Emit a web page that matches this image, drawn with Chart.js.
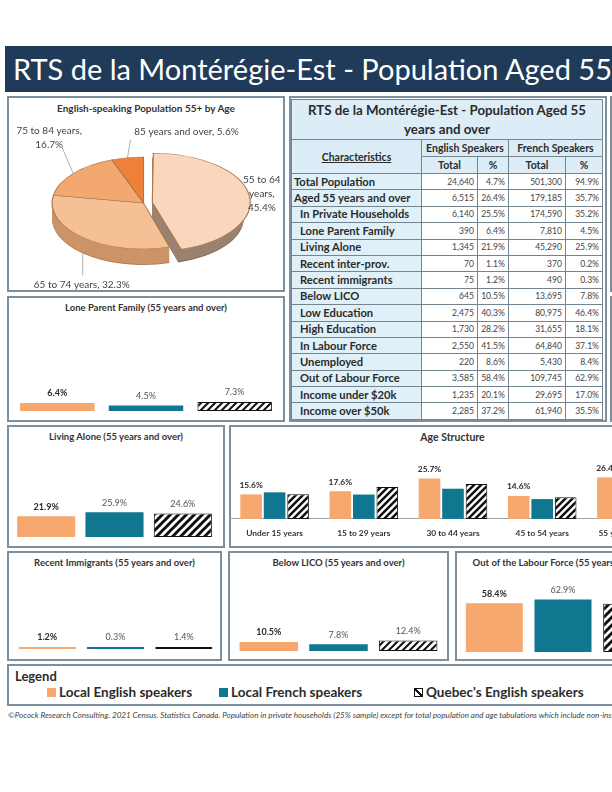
<!DOCTYPE html>
<html>
<head>
<meta charset="utf-8">
<script src="https://cdn.jsdelivr.net/npm/chart.js@4.4.1/dist/chart.umd.min.js"></script>
<style>
html, body { margin: 0; padding: 0; background: #fff; }
#page { position: relative; width: 612px; height: 792px; overflow: hidden; font-family: Lato, "Open Sans", sans-serif; color: #2b2b2b; }
#wrap { position: absolute; left: 0; top: 0; width: 760px; height: 792px; }
.panel { position: absolute; box-sizing: border-box; border: 2px solid #7d8f9d; background: #fff; }
.ptitle { position: absolute; left: 0; right: 0; top: 4px; line-height: 12px; text-align: center; font-weight: bold; font-size: 9.5px; color: #333; white-space: nowrap; }
canvas { position: absolute; }
#titlebar { position: absolute; left: 5px; top: 46px; width: 755px; height: 46px; background: #1f3b59; color: #fff; font-size: 29px; line-height: 46px; padding-left: 8px; box-sizing: border-box; white-space: nowrap; }
#tbl { position: absolute; left: 291px; top: 99px; width: 311px; border-collapse: collapse; table-layout: fixed; }
#tbl td, #tbl th { border: 1px solid #75858f; padding: 0 3px; white-space: nowrap; overflow: hidden; }
#tbl .tt { background: #dcedf7; font-size: 13.3px; font-weight: bold; height: 39px; line-height: 19px; text-align: center; }
#tbl .hd { background: #dcedf7; font-size: 10.5px; font-weight: bold; text-align: center; height: 16px; line-height: 15px; }
#tbl .ch { background: #dcedf7; font-size: 10.5px; font-weight: bold; text-align: center; text-decoration: underline; }
#tbl .lab { background: #dff0f8; font-size: 11.2px; font-weight: bold; height: 15.4px; line-height: 14px; }
#tbl .num { background: #fff; font-size: 8.6px; text-align: right; color: #444; }
#legend .item { position: absolute; top: 19px; font-size: 13.5px; font-weight: bold; white-space: nowrap; line-height: 15px; }
#legend .sw { display: inline-block; width: 9px; height: 9px; margin-right: 3px; vertical-align: 0px; box-sizing: border-box; }
#footer { position: absolute; left: 8px; top: 710px; font-size: 8.1px; font-style: italic; color: #444; white-space: nowrap; }
</style>
</head>
<body>
<div id="page">
<div id="wrap">
  <div id="titlebar">RTS de la Montérégie-Est - Population Aged 55 years and over</div>

  <div class="panel" style="left:7px;top:96px;width:278px;height:196px;"><div class="ptitle" style="font-size:10px;">English-speaking Population 55+ by Age</div></div>
  <div class="panel" style="left:289px;top:96px;width:318px;height:326px;"></div>
  <div class="panel" style="left:610px;top:96px;width:100px;height:196px;"></div>
  <div class="panel" style="left:610px;top:296px;width:100px;height:126px;"></div>
  <div class="panel" style="left:7px;top:296px;width:278px;height:126px;"><div class="ptitle">Lone Parent Family (55 years and over)</div></div>
  <div class="panel" style="left:7px;top:425px;width:218px;height:123px;"><div class="ptitle">Living Alone (55 years and over)</div></div>
  <div class="panel" style="left:229px;top:425px;width:447px;height:123px;"><div class="ptitle" style="font-size:10.5px;">Age Structure</div></div>
  <div class="panel" style="left:7px;top:551px;width:215px;height:110px;"><div class="ptitle">Recent Immigrants (55 years and over)</div></div>
  <div class="panel" style="left:228px;top:551px;width:221px;height:110px;"><div class="ptitle">Below LICO (55 years and over)</div></div>
  <div class="panel" style="left:455px;top:551px;width:218px;height:110px;"><div class="ptitle">Out of the Labour Force (55 years and over)</div></div>

  <table id="tbl"></table>

  <div class="panel" id="legend" style="left:7px;top:664px;width:750px;height:42px;">
    <div style="position:absolute;left:6px;top:2px;font-size:13px;font-weight:bold;">Legend</div>
    <div class="item" style="left:38px;"><span class="sw" style="background:#f6a86f;"></span>Local English speakers</div>
    <div class="item" style="left:210px;"><span class="sw" style="background:#11768f;"></span>Local French speakers</div>
    <div class="item" style="left:405px;"><span class="sw" style="border:1px solid #111;background:linear-gradient(to top right, #fff 40%, #111 40%, #111 60%, #fff 60%);"></span>Quebec's English speakers</div>
  </div>
  <div id="footer">©Pocock Research Consulting. 2021 Census. Statistics Canada. Population in private households (25% sample) except for total population and age tabulations which include non-institutional residents.</div>
</div>
</div>

<script>
// colours
var orange = '#f6a86f';
var teal = '#11768f';

// the three groups compared in every small chart
var speakerGroups = ['Local English speakers', 'Local French speakers', "Quebec's English speakers"];

// pie: English-speaking population 55+ by age
var pieCats = ['55 to 64 years', '65 to 74 years', '75 to 84 years', '85 years and over'];
var pieVals = [45.4, 32.3, 16.7, 5.6];

// small bar charts (%)
var loneParent = [6.4, 4.5, 7.3];
var livingAlone = [21.9, 25.9, 24.6];
var recentImmigrants = [1.2, 0.3, 1.4];
var belowLico = [10.5, 7.8, 12.4];
var outOfLabour = [58.4, 62.9, 58.0];

// age structure (%)
var ageCats = ['Under 15 years', '15 to 29 years', '30 to 44 years', '45 to 54 years', '55 years and over'];
var ageEnglish = [15.6, 17.6, 25.7, 14.6, 26.4];
var ageFrench = [16.9, 15.5, 19.2, 12.6, 35.7];
var ageQuebec = [15.7, 20.3, 22.2, 13.8, 28.0];

// table
var rowLabels = ['Total Population', 'Aged 55 years and over', 'In Private Households', 'Lone Parent Family', 'Living Alone',
    'Recent inter-prov.', 'Recent immigrants', 'Below LICO', 'Low Education', 'High Education', 'In Labour Force',
    'Unemployed', 'Out of Labour Force', 'Income under $20k', 'Income over $50k'];
var engTotal = [24640, 6515, 6140, 390, 1345, 70, 75, 645, 2475, 1730, 2550, 220, 3585, 1235, 2285];
var engPct = [4.7, 26.4, 25.5, 6.4, 21.9, 1.1, 1.2, 10.5, 40.3, 28.2, 41.5, 8.6, 58.4, 20.1, 37.2];
var frTotal = [501300, 179185, 174590, 7810, 45290, 370, 490, 13695, 80975, 31655, 64840, 5430, 109745, 29695, 61940];
var frPct = [94.9, 35.7, 35.2, 4.5, 25.9, 0.2, 0.3, 7.8, 46.4, 18.1, 37.1, 8.4, 62.9, 17.0, 35.5];


// ---- table ----
function buildTable() {
    var h = '<colgroup><col style="width:130px"><col style="width:56px"><col style="width:31px"><col style="width:57px"><col style="width:37px"></colgroup>';
    h += '<tr><td colspan="5" class="tt">RTS de la Montérégie-Est - Population Aged 55<br>years and over</td></tr>';
    h += '<tr><td rowspan="2" class="ch">Characteristics</td><td colspan="2" class="hd">English Speakers</td><td colspan="2" class="hd">French Speakers</td></tr>';
    h += '<tr><td class="hd">Total</td><td class="hd">%</td><td class="hd">Total</td><td class="hd">%</td></tr>';
    for (var i = 0; i < rowLabels.length; i++) {
        var pad = i < 2 ? 2 : 8;
        h += '<tr><td class="lab" style="padding-left:' + pad + 'px">' + rowLabels[i] + '</td>' +
            '<td class="num">' + engTotal[i].toLocaleString('en-US') + '</td>' +
            '<td class="num">' + engPct[i].toFixed(1) + '%</td>' +
            '<td class="num">' + frTotal[i].toLocaleString('en-US') + '</td>' +
            '<td class="num">' + frPct[i].toFixed(1) + '%</td></tr>';
    }
    document.getElementById('tbl').innerHTML = h;
}
buildTable();


// ---- helpers ----
function addCanvas(left, top, w, h) {
    var c = document.createElement('canvas');
    c.width = w;
    c.height = h;
    c.style.left = left + 'px';
    c.style.top = top + 'px';
    c.style.zIndex = 5;
    document.getElementById('wrap').appendChild(c);
    return c;
}

// diagonal "////" fill
function hatch(size, lineW) {
    var c = document.createElement('canvas');
    c.width = size;
    c.height = size;
    var g = c.getContext('2d');
    g.fillStyle = '#fff';
    g.fillRect(0, 0, size, size);
    g.strokeStyle = '#111';
    g.lineWidth = lineW;
    g.beginPath();
    g.moveTo(0, size); g.lineTo(size, 0);
    g.moveTo(-size / 2, size / 2); g.lineTo(size / 2, -size / 2);
    g.moveTo(size / 2, size * 1.5); g.lineTo(size * 1.5, size / 2);
    g.stroke();
    return g.createPattern(c, 'repeat');
}

Chart.defaults.font.family = 'Lato, "Open Sans", sans-serif';

// value labels above bars
var valueLabels = {
    id: 'valueLabels',
    afterDatasetsDraw: function(chart, args, opts) {
        var ctx = chart.ctx;
        ctx.save();
        ctx.textAlign = 'center';
        ctx.textBaseline = 'bottom';
        chart.data.datasets.forEach(function(ds, di) {
            if (opts.onlyDataset != null && opts.onlyDataset !== di) return;
            var meta = chart.getDatasetMeta(di);
            meta.data.forEach(function(bar, i) {
                var k = opts.byIndex ? i : di;
                ctx.font = (k === 0 ? 'bold ' : '') + opts.size + 'px ' + Chart.defaults.font.family;
                ctx.fillStyle = k === 0 ? '#2a2a2a' : '#555';
                ctx.fillText(ds.data[i].toFixed(1) + '%', bar.x, bar.y - opts.gap);
            });
        });
        ctx.restore();
    }
};

function groupBars(box, values, yMax, barPct, hatchSize, hatchW) {
    var cv = addCanvas(box[0], box[1], box[2], box[3]);
    return new Chart(cv, {
        type: 'bar',
        data: {
            labels: speakerGroups,
            datasets: [{
                data: values,
                backgroundColor: [orange, teal, hatch(hatchSize, hatchW)],
                borderColor: ['rgba(0,0,0,0)', 'rgba(0,0,0,0)', '#111'],
                borderWidth: [0, 0, 1],
                borderSkipped: false,
                categoryPercentage: 1,
                barPercentage: barPct,
                minBarLength: 2
            }]
        },
        options: {
            responsive: false,
            animation: false,
            events: [],
            layout: { padding: 0 },
            scales: {
                x: { display: false },
                y: { display: false, min: 0, max: yMax }
            },
            plugins: {
                legend: { display: false },
                tooltip: { enabled: false },
                valueLabels: { byIndex: true, size: 9, gap: 5 }
            }
        },
        plugins: [valueLabels]
    });
}

// [left, top, width, height] in page pixels; chart area bottom = bar baseline
groupBars([13, 311, 266, 100], loneParent, 80, 0.84, 7, 2);
groupBars([12, 457, 205, 80], livingAlone, 84, 0.85, 8, 3);
groupBars([13, 579, 205, 70], recentImmigrants, 78, 0.835, 6, 2);
groupBars([234, 581, 209, 70], belowLico, 82, 0.84, 7, 2);
groupBars([460, 577, 206, 75], outOfLabour, 90, 0.83, 8, 3);


// ---- age structure ----
(function() {
    var cv = addCanvas(230, 456, 446, 91);
    new Chart(cv, {
        type: 'bar',
        data: {
            labels: ageCats,
            datasets: [
                { label: speakerGroups[0], data: ageEnglish, backgroundColor: orange, borderWidth: 0 },
                { label: speakerGroups[1], data: ageFrench, backgroundColor: teal, borderWidth: 0 },
                { label: speakerGroups[2], data: ageQuebec, backgroundColor: hatch(7, 2.5), borderColor: '#111', borderWidth: 1, borderSkipped: false }
            ]
        },
        options: {
            responsive: false,
            animation: false,
            events: [],
            layout: { padding: 0 },
            datasets: { bar: { categoryPercentage: 0.79, barPercentage: 0.92 } },
            scales: {
                x: {
                    grid: { display: false, drawTicks: false },
                    border: { display: true, color: '#9aa6ae', width: 1 },
                    ticks: { color: '#333', padding: 9, autoSkip: false, maxRotation: 0, font: { size: 8.4, weight: 'bold' } }
                },
                y: { display: false, min: 0, max: 40 }
            },
            plugins: {
                legend: { display: false },
                tooltip: { enabled: false },
                valueLabels: { onlyDataset: 0, size: 8.4, gap: 5 }
            }
        },
        plugins: [valueLabels]
    });
})();


// ---- 3D pie ----
var pie3d = {
    id: 'pie3d',
    beforeDatasetsDraw: function(chart, args, o) {
        var ctx = chart.ctx;
        var arcs = chart.getDatasetMeta(0).data;
        var cx = arcs[0].x, cy = arcs[0].y, R = arcs[0].outerRadius;
        var sx = o.rx / R, sy = o.ry / R;
        chart._pieGeom = { cx: cx, cy: cy, R: R, sx: sx, sy: sy };
        ctx.save();
        ctx.translate(o.cx, o.cy);
        ctx.scale(sx, sy);
        ctx.translate(-cx, -cy);
        for (var d = o.depth; d > 0; d--) {
            arcs.forEach(function(arc, i) {
                var off = (arc.options.offset || 0) / 4;
                var mid = (arc.startAngle + arc.endAngle) / 2;
                var x = cx + Math.cos(mid) * off;
                var y = cy + Math.sin(mid) * off + d / sy;
                ctx.beginPath();
                ctx.moveTo(x, y);
                ctx.arc(x, y, R, arc.startAngle, arc.endAngle);
                ctx.closePath();
                ctx.fillStyle = d > o.depth - 1 ? o.edgeColors[i] : o.sideColors[i];
                ctx.fill();
            });
        }
    },
    afterDatasetsDraw: function(chart) {
        chart.ctx.restore();
    },
    afterDraw: function(chart, args, o) {
        var ctx = chart.ctx;
        var g = chart._pieGeom;
        var arcs = chart.getDatasetMeta(0).data;
        ctx.save();
        ctx.font = '10px ' + Chart.defaults.font.family;
        ctx.fillStyle = '#444';
        ctx.textAlign = 'center';
        ctx.textBaseline = 'middle';
        arcs.forEach(function(arc, i) {
            var mid = (arc.startAngle + arc.endAngle) / 2;
            var off = (arc.options.offset || 0) / 4;
            var ax = o.cx + Math.cos(mid) * (o.rx + off * g.sx);
            var ay = o.cy + Math.sin(mid) * (o.ry + off * g.sy) + (Math.sin(mid) > 0 ? o.depth : 0);
            var p = o.labels[i];
            if (p.lx != null) {
                ctx.strokeStyle = '#9a9a9a';
                ctx.lineWidth = 0.8;
                ctx.beginPath();
                ctx.moveTo(ax, ay);
                ctx.lineTo(ax + p.lx, ay + p.ly);
                ctx.stroke();
            }
            // word wrap "category, value%"
            var words = (pieCats[i] + ', ' + pieVals[i].toFixed(1) + '%').split(' ');
            var lines = [], cur = '';
            words.forEach(function(w) {
                var t = cur ? cur + ' ' + w : w;
                if (cur && ctx.measureText(t).width > p.wrap) { lines.push(cur); cur = w; } else { cur = t; }
            });
            lines.push(cur);
            var lh = 14;
            var y0 = ay + p.dy - (lines.length - 1) * lh / 2;
            lines.forEach(function(l, k) { ctx.fillText(l, ax + p.dx, y0 + k * lh); });
        });
        ctx.restore();
    }
};

(function() {
    var cv = addCanvas(9, 114, 274, 176);
    new Chart(cv, {
        type: 'pie',
        data: {
            labels: pieCats,
            datasets: [{
                data: pieVals,
                backgroundColor: ['#fad6bd', '#f6c095', '#f3a870', '#ee8039'],
                borderColor: '#a9764f',
                borderWidth: 0.7,
                offset: [22, 0, 0, 0],
                clip: false
            }]
        },
        options: {
            responsive: false,
            animation: false,
            events: [],
            layout: { padding: 20 },
            plugins: {
                legend: { display: false },
                tooltip: { enabled: false },
                pie3d: {
                    cx: 134.5, cy: 89, rx: 91.5, ry: 46, depth: 16,
                    sideColors: ['#9b8270', '#cc9467', '#cc8852', '#c4692e'],
                    edgeColors: ['#7e6959', '#b07d55', '#ad7043', '#a55522'],
                    labels: [
                        { dx: 19, dy: -2, wrap: 38 },
                        { dx: -1, dy: 31, wrap: 200, lx: 0, ly: 22 },
                        { dx: -24, dy: -36, wrap: 80, lx: -11, ly: -26 },
                        { dx: 59, dy: -26, wrap: 200, lx: 3, ly: -18 }
                    ]
                }
            }
        },
        plugins: [pie3d]
    });
})();
</script>
</body>
</html>
